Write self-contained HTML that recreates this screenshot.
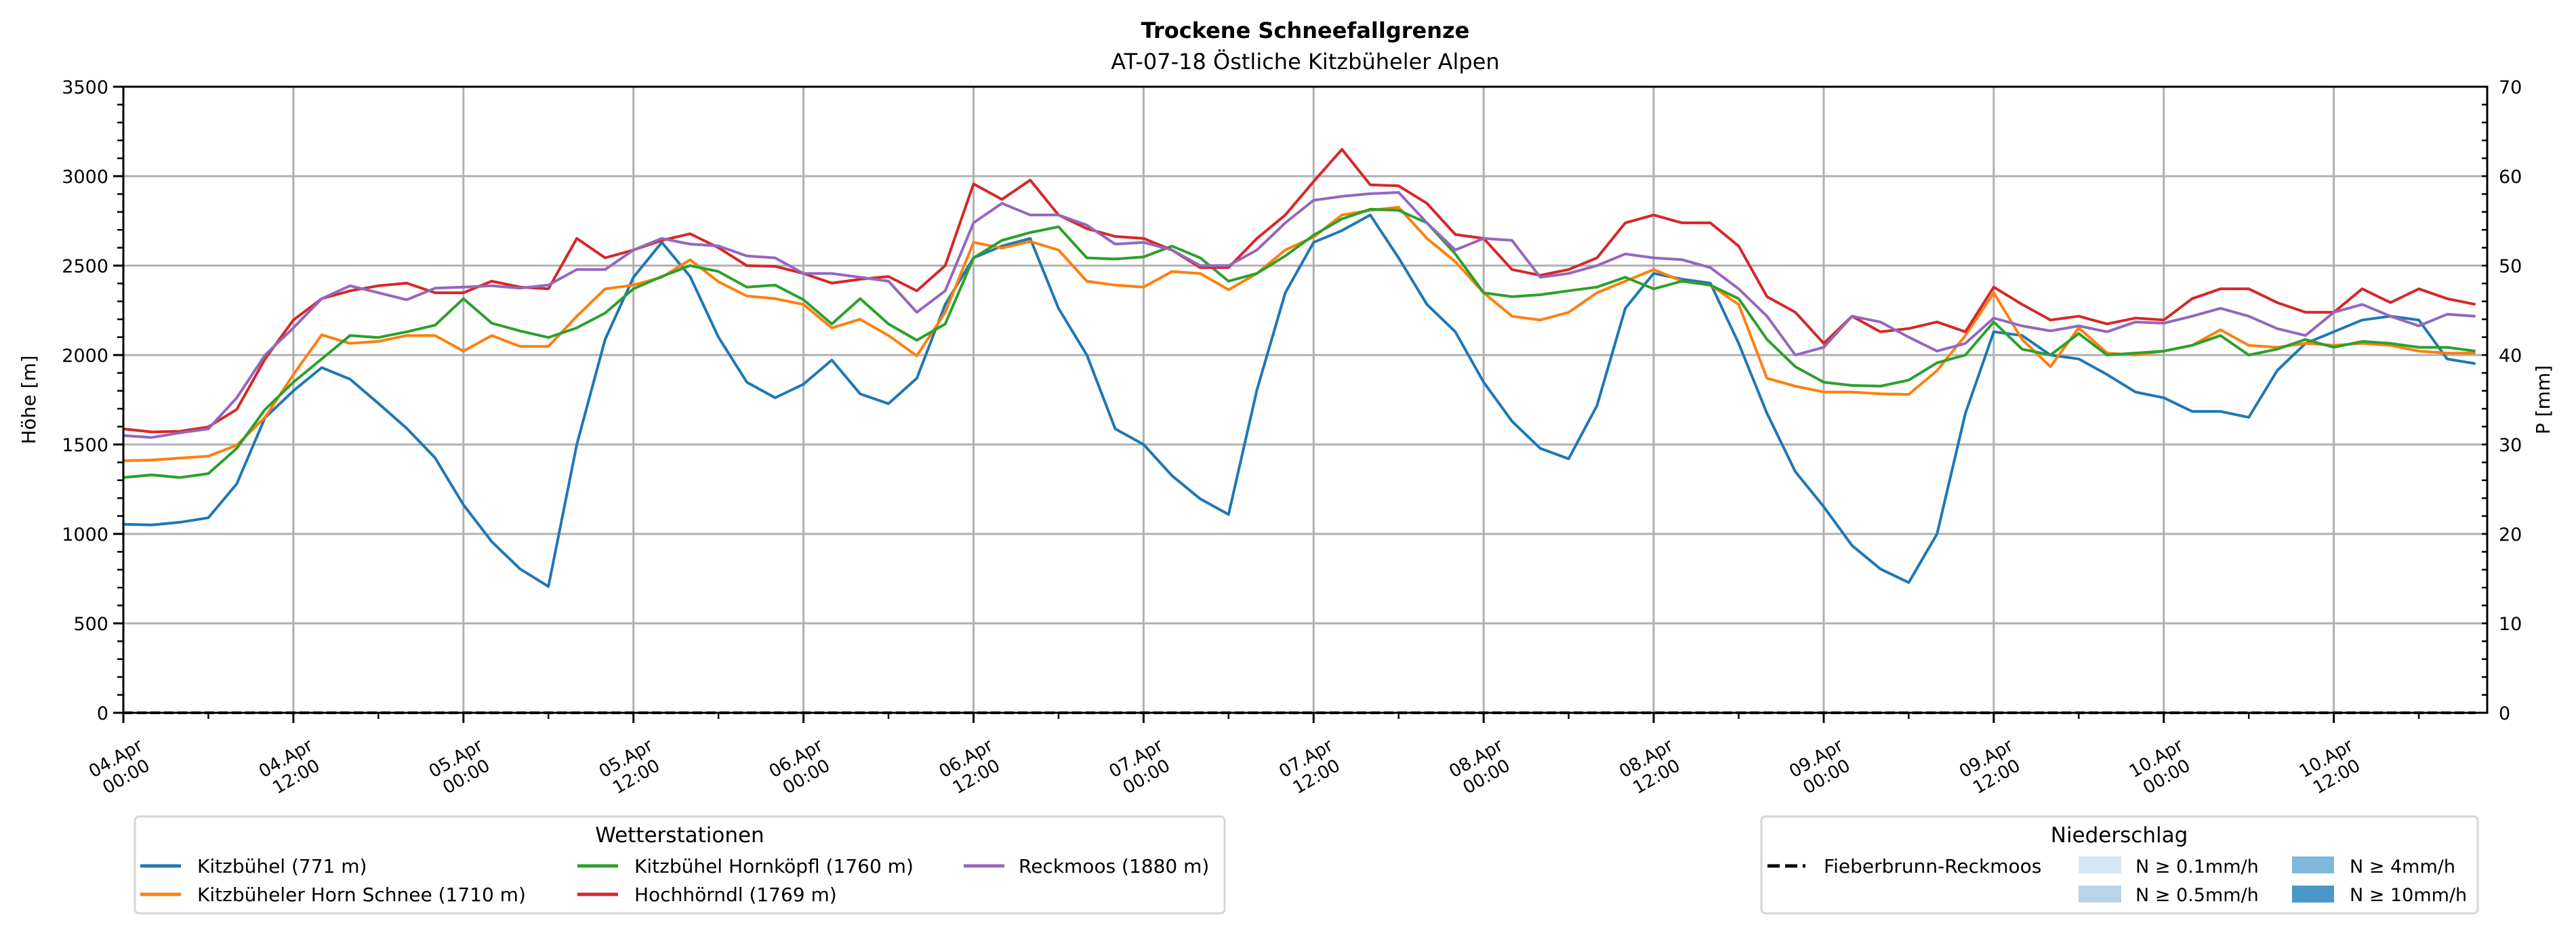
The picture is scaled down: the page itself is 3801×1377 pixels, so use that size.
<!DOCTYPE html>
<html><head><meta charset="utf-8"><style>
html,body{margin:0;padding:0;background:#fff;}
svg{display:block;font-family:"DejaVu Sans","Liberation Sans",sans-serif;}
</style></head><body>
<svg id="chart" width="3801" height="1377" viewBox="0 0 3801 1377" xmlns="http://www.w3.org/2000/svg">
<rect x="0" y="0" width="3801" height="1377" fill="#fff"/>
<text x="1926" y="56" font-size="32" font-weight="bold" text-anchor="middle">Trockene Schneefallgrenze</text>
<text x="1926" y="102" font-size="32" text-anchor="middle">AT-07-18 Östliche Kitzbüheler Alpen</text>
<g id="grid"></g>
<g id="series"></g>
<g id="axes"></g>
<text transform="translate(52,590) rotate(-90)" font-size="28" text-anchor="middle">Höhe [m]</text>
<text transform="translate(3762,590) rotate(-90)" font-size="28" text-anchor="middle">P [mm]</text>

<g>
<rect x="199" y="1205" width="1608" height="143" rx="6" fill="#fff" stroke="#d6d6d6" stroke-width="3"/>
<text x="1003" y="1243" font-size="31" text-anchor="middle">Wetterstationen</text>
<g><line x1="207" y1="1278" x2="267" y2="1278" stroke="#1f77b4" stroke-width="5"/><text x="291" y="1288" font-size="28">Kitzbühel (771 m)</text></g>
<g><line x1="207" y1="1320" x2="267" y2="1320" stroke="#ff7f0e" stroke-width="5"/><text x="291" y="1330" font-size="28">Kitzbüheler Horn Schnee (1710 m)</text></g>
<g><line x1="852" y1="1278" x2="912" y2="1278" stroke="#2ca02c" stroke-width="5"/><text x="936" y="1288" font-size="28">Kitzbühel Hornköpfl (1760 m)</text></g>
<g><line x1="852" y1="1320" x2="912" y2="1320" stroke="#d62728" stroke-width="5"/><text x="936" y="1330" font-size="28">Hochhörndl (1769 m)</text></g>
<g><line x1="1422" y1="1278" x2="1482" y2="1278" stroke="#9467bd" stroke-width="5"/><text x="1503" y="1288" font-size="28">Reckmoos (1880 m)</text></g>
</g>

<g>
<rect x="2599" y="1205" width="1057" height="143" rx="6" fill="#fff" stroke="#d6d6d6" stroke-width="3"/>
<text x="3127" y="1243" font-size="31" text-anchor="middle">Niederschlag</text>
<g><line x1="2608" y1="1278" x2="2664" y2="1278" stroke="#000" stroke-width="5" stroke-dasharray="18,8"/><text x="2691" y="1288" font-size="28">Fieberbrunn-Reckmoos</text></g>
<g><rect x="3067" y="1264" width="63" height="25" fill="#d6e6f4"/><text x="3151" y="1288" font-size="27">N ≥ 0.1mm/h</text></g>
<g><rect x="3067" y="1307" width="63" height="25" fill="#b8d4ea"/><text x="3151" y="1330" font-size="27">N ≥ 0.5mm/h</text></g>
<g><rect x="3382" y="1264" width="62" height="25" fill="#7fb8da"/><text x="3467" y="1288" font-size="27">N ≥ 4mm/h</text></g>
<g><rect x="3382" y="1307" width="62" height="25" fill="#4a98c9"/><text x="3467" y="1330" font-size="27">N ≥ 10mm/h</text></g>
</g>
</svg>
<script>
const hours = [];
for (let h = 0; h <= 166; h += 2) hours.push(h);
const kitzbuehel = [1054,1050,1065,1090,1280,1650,1800,1930,1865,1730,1590,1425,1163,957,804,706,1500,2087,2435,2630,2439,2100,
1848,1761,1837,1972,1783,1728,1870,2283,2543,2609,2652,2261,2000,1587,1500,1326,1196,1109,1804,2348,2630,
2696,2783,2543,2283,2130,1848,1630,1478,1420,1717,2261,2457,2424,2402,2065,1674,1348,1152,935,804,728,
1000,1674,2130,2109,2000,1978,1891,1793,1761,1685,1685,1652,1913,2065,2130,2196,2217,2196,1978,1952];
const horn = [1409,1413,1424,1435,1496,1652,1891,2113,2065,2076,2109,2109,2022,2109,2048,2048,2217,2370,2391,2435,2533,2410,
2330,2315,2283,2152,2200,2109,1996,2239,2630,2598,2635,2587,2413,2391,2380,2467,2456,2365,2456,2587,2660,
2783,2809,2826,2652,2522,2348,2217,2196,2239,2348,2413,2478,2413,2391,2283,1870,1826,1793,1793,1783,1780,
1913,2109,2348,2087,1935,2152,2011,2000,2022,2054,2141,2054,2043,2065,2054,2065,2054,2022,2011,2011];
const hornkoepfl = [1315,1330,1315,1337,1478,1696,1848,1978,2109,2098,2130,2167,2315,2178,2135,2098,2152,2235,2370,2439,2500,2467,
2380,2391,2309,2174,2315,2174,2083,2174,2543,2641,2685,2717,2543,2537,2548,2609,2543,2413,2456,2554,2670,
2761,2815,2809,2739,2565,2348,2326,2337,2359,2380,2435,2370,2413,2391,2315,2087,1935,1848,1830,1826,1860,
1957,2000,2185,2033,2000,2120,2000,2011,2022,2054,2109,2000,2033,2087,2043,2076,2065,2043,2043,2022];
const hochhoerndl = [1587,1570,1574,1598,1696,1978,2196,2315,2359,2387,2402,2348,2348,2413,2380,2370,2652,2543,2587,2641,2678,2600,
2500,2496,2456,2402,2424,2439,2359,2500,2957,2870,2978,2783,2707,2663,2652,2587,2489,2489,2652,2783,2970,
3150,2952,2946,2848,2674,2652,2478,2446,2478,2543,2739,2783,2739,2739,2609,2326,2239,2065,2217,2130,2148,
2185,2130,2380,2283,2196,2217,2174,2207,2196,2315,2370,2370,2293,2239,2239,2370,2293,2370,2315,2283];
const reckmoos = [1550,1539,1565,1587,1761,2000,2152,2315,2387,2348,2309,2374,2380,2387,2374,2391,2478,2478,2587,2652,2620,2610,
2554,2543,2456,2456,2435,2413,2239,2359,2739,2848,2783,2783,2726,2620,2630,2587,2500,2500,2587,2739,2865,
2887,2902,2909,2739,2587,2652,2641,2435,2456,2500,2565,2543,2533,2489,2370,2217,2000,2043,2217,2185,2100,
2022,2065,2207,2163,2135,2163,2130,2185,2178,2217,2261,2217,2148,2109,2239,2283,2217,2163,2228,2217];
const precipFieberbrunn = hours.map(() => 0);
const yTicks = [0,500,1000,1500,2000,2500,3000,3500];
const y2Ticks = [0,10,20,30,40,50,60,70];
const xTickDays = ["04.Apr","04.Apr","05.Apr","05.Apr","06.Apr","06.Apr","07.Apr","07.Apr","08.Apr","08.Apr","09.Apr","09.Apr","10.Apr","10.Apr"];
const xTickTimes = ["00:00","12:00","00:00","12:00","00:00","12:00","00:00","12:00","00:00","12:00","00:00","12:00","00:00","12:00"];

const L = 182, R = 3670, T = 128, B = 1052;
const pxPerHour = 20.908;
const X = h => L + h * pxPerHour;
const Y = v => B - v * (B - T) / 3500;
const Y2 = v => B - v * (B - T) / 70;
const NS = "http://www.w3.org/2000/svg";
function mk(tag, attrs, parent) {
  const e = document.createElementNS(NS, tag);
  for (const k in attrs) e.setAttribute(k, attrs[k]);
  parent.appendChild(e);
  return e;
}
const grid = document.getElementById('grid');
const axes = document.getElementById('axes');
const seriesG = document.getElementById('series');

yTicks.forEach(v => {
  const y = Y(v);
  const gl = mk('line', {x1: L, x2: R, y1: y, y2: y, stroke: '#b0b0b0', 'stroke-width': 3}, grid);
  
  
  const tk = mk('line', {x1: L - 15, x2: L, y1: y, y2: y, stroke: '#000', 'stroke-width': 3}, axes);
  
  
  const t = mk('text', {x: L - 22, y: y + 10, 'font-size': 27, 'text-anchor': 'end'}, axes);
  t.textContent = v;
  
  
});
for (let v = 0; v <= 3500; v += 100) {
  if (v % 500 === 0) continue;
  const m = mk('line', {x1: L - 9, x2: L, y1: Y(v), y2: Y(v), stroke: '#000', 'stroke-width': 2.5}, axes);
  
  
}
y2Ticks.forEach(v => {
  const t = mk('text', {x: R + 17, y: Y2(v) + 10, 'font-size': 27}, axes);
  t.textContent = v;
  
  
});
for (let v = 0; v <= 70; v += 2) {
  const m = mk('line', {x1: R - 8, x2: R, y1: Y2(v), y2: Y2(v), stroke: '#000', 'stroke-width': 2.5}, axes);
  
  
}
xTickDays.forEach((d, i) => {
  const h = i * 12;
  const x = X(h);
  if (i > 0) {
    const gl = mk('line', {x1: x, x2: x, y1: T, y2: B, stroke: '#b0b0b0', 'stroke-width': 3}, grid);
    
    
  }
  const tk = mk('line', {x1: x, x2: x, y1: B, y2: B + 15, stroke: '#000', 'stroke-width': 3}, axes);
  
  
  const t = mk('text', {transform: `translate(${x - 4},1132) rotate(-30)`, 'font-size': 26, 'text-anchor': 'middle'}, axes);
  
  
  const s1 = mk('tspan', {x: 0, y: -6}, t); s1.textContent = d;
  const s2 = mk('tspan', {x: 0, y: 25}, t); s2.textContent = xTickTimes[i];
});
for (let h = 6; h < 167; h += 12) {
  const m = mk('line', {x1: X(h), x2: X(h), y1: B, y2: B + 9, stroke: '#000', 'stroke-width': 2.5}, axes);
  
  
}
const frame = mk('rect', {x: L, y: T, width: R - L, height: B - T, fill: 'none', stroke: '#000', 'stroke-width': 3}, axes);



const seriesList = [
  [kitzbuehel, '#1f77b4', 'line-kitzbuehel'],
  [horn, '#ff7f0e', 'line-kitzbueheler-horn'],
  [hornkoepfl, '#2ca02c', 'line-hornkoepfl'],
  [hochhoerndl, '#d62728', 'line-hochhoerndl'],
  [reckmoos, '#9467bd', 'line-reckmoos']
];
seriesList.forEach(([vals, col, name]) => {
  const pts = vals.map((v, i) => X(hours[i]).toFixed(1) + ',' + Y(v).toFixed(1)).join(' ');
  const pl = mk('polyline', {points: pts, fill: 'none', stroke: col, 'stroke-width': 4, 'stroke-linejoin': 'round'}, seriesG);
  
  
});
const pp = precipFieberbrunn.map((v, i) => X(hours[i]).toFixed(1) + ',' + Y2(v).toFixed(1)).join(' ');
const pl = mk('polyline', {points: pp, fill: 'none', stroke: '#000', 'stroke-width': 4, 'stroke-dasharray': '14,6'}, seriesG);


</script>
</body></html>
